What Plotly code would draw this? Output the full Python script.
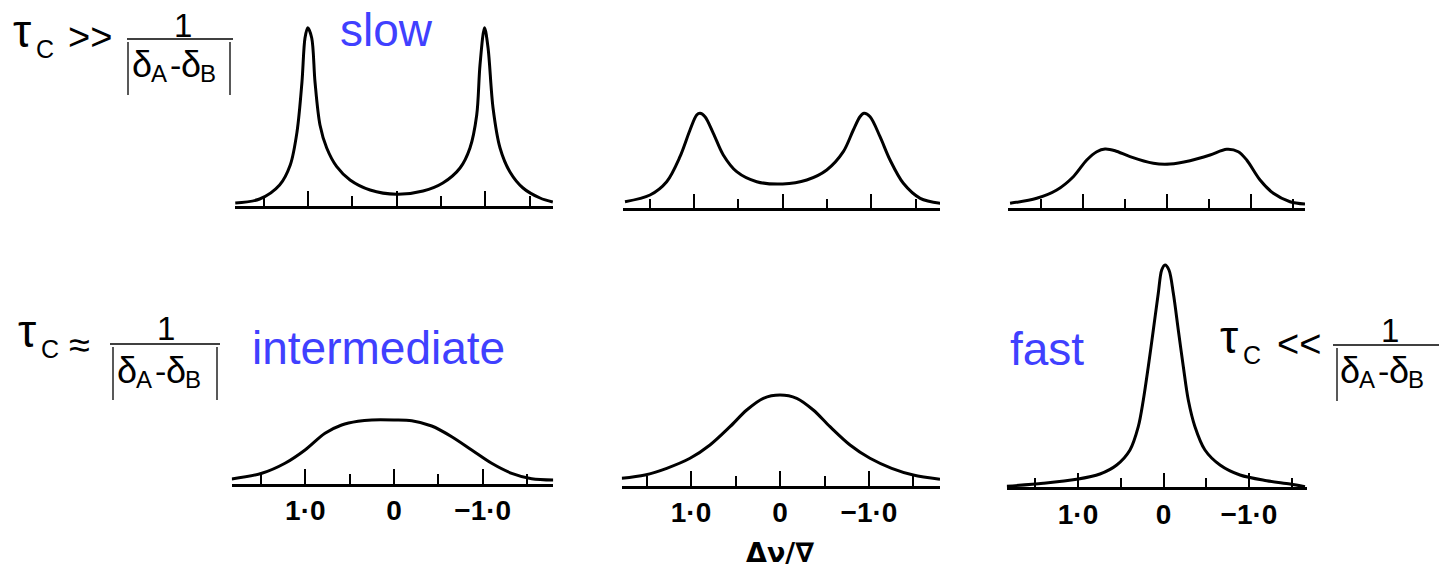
import plotly.graph_objects as go

W, H = 1439, 568

# ---------------- data ----------------
# x in units of delta-nu / nabla, y = relative intensity (arbitrary units)
p1_x = [1.82, 1.545, 1.32, 1.20, 1.124, 1.068, 1.034, 1.003, 0.958, 0.921, 0.865, 0.789, 0.676, 0.526, 0.30, 0.0,
        -0.297, -0.52, -0.714, -0.826, -0.902, -0.939, -0.99, -1.03, -1.086, -1.165, -1.277, -1.424, -1.616, -1.76]
p1_y = [2.7, 6.7, 20.7, 40.7, 73.7, 123.7, 167.7, 178, 167.7, 123.7, 80.7, 57.7, 39, 25.7, 15.7, 11.4,
        14.7, 22.7, 37.7, 57.7, 90.7, 140.7, 178, 157.7, 97.7, 57.7, 33.7, 17.7, 7.7, 3.7]

p2_x = [1.778, 1.496, 1.308, 1.158, 1.045, 0.970, 0.932, 0.876, 0.782, 0.670, 0.519, 0.293, 0.0,
        -0.271, -0.496, -0.683, -0.796, -0.871, -0.917, -0.985, -1.097, -1.210, -1.360, -1.550, -1.776]
p2_y = [6.6, 13.3, 26.6, 51.6, 78.3, 93.3, 95, 91.6, 75, 53.3, 36.6, 26.6, 24.3,
        28.3, 38.3, 56.6, 78.3, 91.6, 95, 91.6, 71.6, 48.3, 25, 10, 5]

p3_x = [1.871, 1.554, 1.315, 1.118, 0.958, 0.839, 0.740, 0.621, 0.443, 0.165, -0.033,
        -0.271, -0.510, -0.708, -0.846, -0.946, -1.105, -1.263, -1.462, -1.640]
p3_y = [5, 10, 18.3, 31.6, 48.3, 56.6, 59.3, 57.6, 51.6, 45, 44.3,
        47.6, 53.3, 59, 56.6, 48.3, 28.3, 15, 6.6, 4.3]

p4_x = [1.83, 1.49, 1.229, 1.003, 0.778, 0.59, 0.406, 0.251, 0.0, -0.2, -0.425, -0.651, -0.876,
        -1.101, -1.327, -1.552, -1.796]
p4_y = [5, 10.7, 20.7, 34, 50.7, 59, 62.7, 64, 64, 63.3, 58, 47.3, 34, 20.7, 10.7, 5.3, 4]

p5_x = [1.779, 1.517, 1.273, 1.011, 0.787, 0.562, 0.374, 0.188, 0.0, -0.188, -0.374, -0.562, -0.787,
        -1.011, -1.255, -1.498, -1.798]
p5_y = [7.4, 10.7, 17.4, 27.4, 40.7, 59, 75.7, 87.4, 90.7, 87.4, 75.7, 59, 40.7, 27.4, 17.4, 10.7, 6.4]

p6_x = [1.834, 1.406, 1.015, 0.743, 0.547, 0.392, 0.295, 0.236, 0.178, 0.119, 0.061, 0.021, -0.018,
        -0.064, -0.115, -0.173, -0.232, -0.290, -0.368, -0.485, -0.661, -0.895, -1.207, -1.480, -1.655]
p6_y = [1, 4, 8, 13.3, 22.3, 37.3, 60.6, 87.3, 120.6, 157.3, 194, 217.3, 222.3,
        217.3, 194, 157.3, 120.6, 87.3, 60.6, 37.3, 22.3, 12.3, 6.6, 3.3, 0.6]

major_ticks = [1.0, 0.0, -1.0]
minor_ticks = [1.5, 0.5, -0.5, -1.5]
tick_labels = ["1·0", "0", "−1·0"]
regime_labels = ["slow", "intermediate", "fast"]
axis_title = "Δν/∇"

# ---------------- layout helpers (pixel geometry) ----------------
# (left px, right px, baseline px, x-range, y-range top, show labels)
panels = [
    (p1_x, p1_y, 235.0, 553.0, 205.7, [1.823, -1.762], 190, False),
    (p2_x, p2_y, 623.3, 940.0, 208.3, [1.797, -1.773], 190, False),
    (p3_x, p3_y, 1008.3, 1305.0, 208.3, [1.892, -1.640], 190, False),
    (p4_x, p4_y, 231.7, 553.3, 484.0, [1.830, -1.796], 240, True),
    (p5_x, p5_y, 621.7, 940.0, 485.7, [1.779, -1.798], 240, True),
    (p6_x, p6_y, 1006.7, 1306.7, 487.3, [1.834, -1.675], 240, True),
]

fig = go.Figure()
layout = {}
for i, (xs, ys, xl, xr, base, xrng, ytop, labels) in enumerate(panels, start=1):
    sfx = "" if i == 1 else str(i)
    fig.add_trace(go.Scatter(x=xs, y=ys, mode="lines", xaxis="x" + sfx, yaxis="y" + sfx,
                             line=dict(color="black", width=3, shape="spline", smoothing=0.9),
                             showlegend=False, hoverinfo="skip"))
    layout["xaxis" + sfx] = dict(
        domain=[xl / W, xr / W], anchor="y" + sfx, range=xrng,
        showline=True, linecolor="black", linewidth=2.6, showgrid=False, zeroline=False,
        ticks="inside", tickmode="array", tickvals=major_ticks, ticktext=tick_labels,
        ticklen=15, tickwidth=2, tickcolor="black",
        minor=dict(tickmode="array", tickvals=minor_ticks, ticks="inside", ticklen=10,
                   tickwidth=2, tickcolor="black", showgrid=False),
        showticklabels=labels,
        tickfont=dict(family="Liberation Sans", size=28, color="black", weight="bold"),
        fixedrange=True,
    )
    layout["yaxis" + sfx] = dict(
        domain=[1 - base / H, 1 - (base - ytop) / H], anchor="x" + sfx,
        range=[0, ytop], visible=False, fixedrange=True,
    )

annotations = []
shapes = []


def txt(s, x, ybase, fs, anchor="left", color="black", family="Liberation Sans", weight="normal"):
    yc = ybase - 0.3465 * fs
    annotations.append(dict(text=s, x=x / W, y=1 - yc / H, xref="paper", yref="paper",
                            xanchor=anchor, yanchor="middle", showarrow=False,
                            font=dict(family=family, size=fs, color=color, weight=weight)))


def vline(x, y0, y1, w=1.5, color="#222"):
    shapes.append(dict(type="line", xref="paper", yref="paper", x0=x / W, x1=x / W,
                       y0=1 - y0 / H, y1=1 - y1 / H, line=dict(color=color, width=w)))


def hline(x0, x1, y, w=1.5, color="black"):
    shapes.append(dict(type="line", xref="paper", yref="paper", x0=x0 / W, x1=x1 / W,
                       y0=1 - y / H, y1=1 - y / H, line=dict(color=color, width=w)))


def formula(op, tx, tb, opx, opb, onex, oneb, lx0, lx1, ly, dx, db, bars):
    txt("τ", tx - 2, tb, 46)
    txt("C", tx + 21, tb + 11, 25)
    txt(op, opx, opb, 38)
    txt("1", onex, oneb, 33, anchor="center")
    hline(lx0, lx1, ly)
    txt("δ", dx - 2, db, 36)
    txt("A", dx + 17, db + 5, 24)
    txt("-", dx + 36, db, 34)
    txt("δ", dx + 47, db, 36)
    txt("B", dx + 66, db + 5, 24)
    for bx in bars:
        vline(bx, ly + 3, ly + 56)


formula(">>", 13, 47, 66, 50, 183, 37, 127, 233, 39, 132, 77, [128, 230])
formula("≈", 18, 347, 67, 358, 166, 340, 110, 220, 344, 117, 383, [113, 217])
formula("<<", 1220, 353, 1275, 357, 1390, 342, 1333, 1439, 345, 1340, 383, [1337])

blue = "#4040FF"
txt(regime_labels[0], 387, 46, 46, anchor="center", color=blue)
txt(regime_labels[1], 378, 364, 46, anchor="center", color=blue)
txt(regime_labels[2], 1047, 365, 46, anchor="center", color=blue)

txt(axis_title, 780, 562, 27, anchor="center", family="DejaVu Sans", weight="bold")

fig.update_layout(**layout)
fig.update_layout(width=W, height=H, margin=dict(l=0, r=0, t=0, b=0),
                  paper_bgcolor="white", plot_bgcolor="white",
                  annotations=annotations, shapes=shapes, showlegend=False)

fig.write_html("out.html", config={"displayModeBar": False})
